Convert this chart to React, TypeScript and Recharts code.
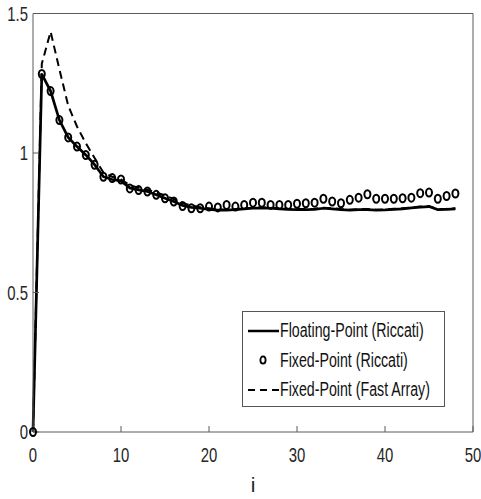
import React from 'react';
import { LineChart, Line, XAxis, YAxis, Legend } from 'recharts';

const steps = [0, 1, 2, 3, 4, 5, 6, 7, 8, 9, 10, 11, 12, 13, 14, 15, 16, 17, 18, 19, 20, 21, 22, 23, 24, 25, 26, 27, 28, 29, 30, 31, 32, 33, 34, 35, 36, 37, 38, 39, 40, 41, 42, 43, 44, 45, 46, 47, 48];

const floatingRiccati = [0, 1.283, 1.222, 1.118, 1.056, 1.023, 0.993, 0.958, 0.915, 0.905, 0.9, 0.875, 0.868, 0.862, 0.85, 0.838, 0.826, 0.812, 0.805, 0.802, 0.798, 0.795, 0.795, 0.797, 0.8, 0.802, 0.803, 0.802, 0.8, 0.798, 0.797, 0.797, 0.798, 0.802, 0.8, 0.797, 0.795, 0.797, 0.797, 0.795, 0.796, 0.798, 0.8, 0.803, 0.806, 0.808, 0.797, 0.798, 0.8];

const fixedRiccati = [0, 1.283, 1.222, 1.118, 1.056, 1.023, 0.993, 0.958, 0.915, 0.91, 0.905, 0.873, 0.867, 0.862, 0.85, 0.838, 0.826, 0.81, 0.802, 0.802, 0.808, 0.805, 0.814, 0.808, 0.814, 0.822, 0.822, 0.814, 0.814, 0.814, 0.818, 0.82, 0.822, 0.836, 0.826, 0.82, 0.832, 0.84, 0.852, 0.836, 0.836, 0.836, 0.838, 0.84, 0.856, 0.858, 0.836, 0.846, 0.855];

const fixedFastArray = [0, 1.32, 1.435, 1.3, 1.17, 1.095, 1.035, 0.982, 0.93, 0.915, 0.905, 0.885, 0.875, 0.868, 0.858, 0.848, 0.835, 0.82, 0.812, 0.806, 0.802, 0.798, 0.797, 0.799, 0.802, 0.804, 0.805, 0.804, 0.802, 0.8, 0.799, 0.799, 0.8, 0.804, 0.802, 0.799, 0.797, 0.799, 0.799, 0.797, 0.798, 0.8, 0.802, 0.805, 0.808, 0.81, 0.799, 0.8, 0.802];

const xTicks = [0, 10, 20, 30, 40, 50];
const yTicks = [0, 0.5, 1, 1.5];

const seriesNames = ['Floating-Point (Riccati)', 'Fixed-Point (Riccati)', 'Fixed-Point (Fast Array)'];

const data = steps.map((i, k) => ({
  i,
  floating: floatingRiccati[k],
  fixed: fixedRiccati[k],
  fast: fixedFastArray[k],
}));

const FONT = '"Liberation Sans", Arial, sans-serif';
const AXIS = '#5a5a5a';
const SQUASH = 0.71; // the original figure is narrowed horizontally

const XTick = (p: any) => (
  <g transform={`translate(${p.x},${p.y}) scale(${SQUASH},1)`}>
    <text x={0} y={15} textAnchor="middle" fill="#262626" fontSize={21} fontFamily={FONT}>
      {p.payload.value}
    </text>
  </g>
);

const YTick = (p: any) => (
  <g transform={`translate(${p.x},${p.y}) scale(${SQUASH},1)`}>
    <text x={0} y={7} textAnchor="end" fill="#262626" fontSize={21} fontFamily={FONT}>
      {p.payload.value}
    </text>
  </g>
);

const ringDot = (p: any) => {
  if (p.cx == null || p.cy == null) return <g key={`r-${p.index}`} />;
  return (
    <ellipse key={`r-${p.index}`} cx={p.cx} cy={p.cy} rx={3} ry={4} fill="none" stroke="#000" strokeWidth={2} />
  );
};

const LegendBox = () => (
  <div
    style={{
      width: 203,
      height: 96,
      boxSizing: 'border-box',
      border: '1px solid #555',
      background: '#fff',
      fontFamily: FONT,
      fontSize: 20,
      color: '#111',
      overflow: 'hidden',
    }}
  >
    {seriesNames.map((name, k) => (
      <div key={name} style={{ display: 'flex', alignItems: 'center', height: 29.5, paddingLeft: 4, marginTop: k === 0 ? 4 : 0 }}>
        <svg width={33} height={12} style={{ flex: 'none' }}>
          {k === 0 && <line x1={1} y1={6} x2={32} y2={6} stroke="#000" strokeWidth={2.5} />}
          {k === 1 && <ellipse cx={16} cy={6} rx={2.6} ry={3.6} fill="none" stroke="#000" strokeWidth={1.8} />}
          {k === 2 && <line x1={1} y1={6} x2={32} y2={6} stroke="#000" strokeWidth={2.2} strokeDasharray="7 5" />}
        </svg>
        <span style={{ whiteSpace: 'nowrap', display: 'inline-block', transform: `scaleX(${SQUASH})`, transformOrigin: 'left center' }}>
          {name}
        </span>
      </div>
    ))}
  </div>
);

export default function App() {
  return (
    <div style={{ position: 'absolute', left: 0, top: 0, width: 481, height: 499, background: '#fff' }}>
      <LineChart width={481} height={499} data={data} margin={{ top: 12.5, right: 7, left: 5, bottom: 7 }}>
        <XAxis
          dataKey="i"
          type="number"
          domain={[0, 50]}
          ticks={xTicks}
          stroke={AXIS}
          tickSize={-6}
          tickMargin={21}
          tick={<XTick />}
          height={60}
          label={{ value: 'i', position: 'insideBottom', offset: 0, fill: '#262626', fontSize: 21, fontFamily: FONT }}
        />
        <XAxis
          xAxisId="top"
          dataKey="i"
          type="number"
          orientation="top"
          domain={[0, 50]}
          ticks={xTicks}
          stroke={AXIS}
          tickSize={-6}
          tick={false}
          height={1}
        />
        <YAxis
          type="number"
          domain={[0, 1.5]}
          ticks={yTicks}
          stroke={AXIS}
          tickSize={-6}
          tickMargin={11}
          tick={<YTick />}
          width={28}
        />
        <YAxis
          yAxisId="right"
          orientation="right"
          type="number"
          domain={[0, 1.5]}
          ticks={yTicks}
          stroke={AXIS}
          tickSize={-6}
          tick={false}
          width={1}
        />
        <Line dataKey="floating" stroke="#000" strokeWidth={2.7} dot={false} isAnimationActive={false} />
        <Line dataKey="fixed" stroke="none" dot={ringDot} activeDot={false} isAnimationActive={false} />
        <Line dataKey="fast" stroke="#000" strokeWidth={2} strokeDasharray="8 5" dot={false} isAnimationActive={false} />
        <Legend
          layout="horizontal"
          verticalAlign="middle"
          align="center"
          content={<LegendBox />}
          wrapperStyle={{ left: 242, top: 311, width: 203, height: 96 }}
        />
      </LineChart>
    </div>
  );
}
